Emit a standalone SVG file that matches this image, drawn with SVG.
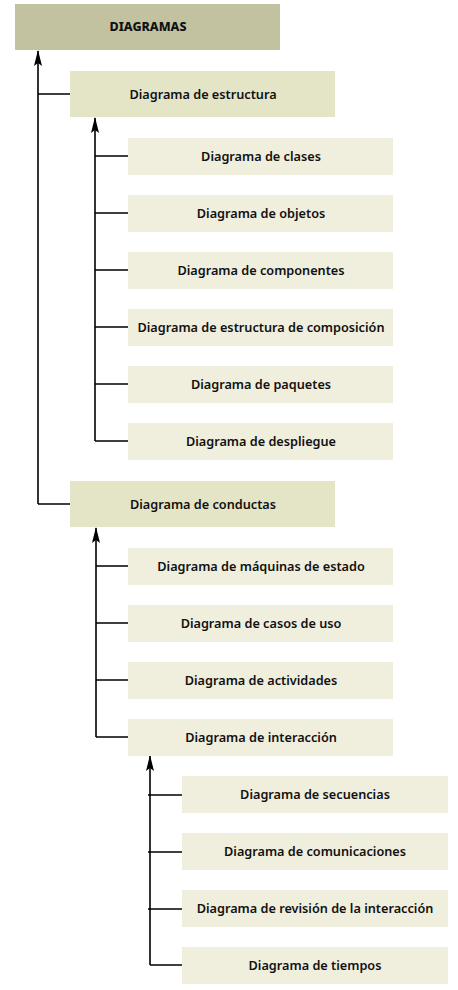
<svg xmlns="http://www.w3.org/2000/svg" width="458" height="990" viewBox="0 0 458 990">
<style>
.t{font-family:"Noto Sans","Liberation Sans",sans-serif;font-weight:600;font-size:12.7px;fill:#111;text-anchor:middle}
.top{fill:#c2c2a0}
.mid{fill:#e4e4c6}
.leaf{fill:#f0eedd}
.c{fill:none;stroke:#000;stroke-width:1.6}
</style>
<defs>
<marker id="ah" markerWidth="16" markerHeight="8" refX="15" refY="4" orient="auto" markerUnits="userSpaceOnUse" viewBox="0 0 16 8">
<path d="M16,4 L0,0 L3,4 L0,8 Z" fill="#000"/>
</marker>
</defs>
<rect width="458" height="990" fill="#fff"/>
<g id="connectors">
<path class="c" d="M38,504 V51" marker-end="url(#ah)"/>
<path class="c" d="M38,94 H70 M38,504 H70"/>
<path class="c" d="M95,441 V118" marker-end="url(#ah)"/>
<path class="c" d="M95,156 H128 M95,213 H128 M95,270 H128 M95,327 H128 M95,384 H128 M95,441 H128"/>
<path class="c" d="M96,737 V528" marker-end="url(#ah)"/>
<path class="c" d="M96,566 H128 M96,623 H128 M96,680 H128 M96,737 H128"/>
<path class="c" d="M150,965 V756" marker-end="url(#ah)"/>
<path class="c" d="M148,795 H182 M148,852 H182 M148,909 H182 M150,965 H182"/>
</g>
<g id="diagramas"><rect class="top" x="15" y="4" width="265" height="46"/><text class="t" x="148" y="31" style="font-weight:800;font-size:12.5px">DIAGRAMAS</text></g>
<g id="estructura"><rect class="mid" x="70" y="71" width="265" height="46"/><text class="t" x="203" y="99">Diagrama de estructura</text></g>
<g id="clases"><rect class="leaf" x="128" y="138" width="265" height="37"/><text class="t" x="261" y="160.5">Diagrama de clases</text></g>
<g id="objetos"><rect class="leaf" x="128" y="195" width="265" height="37"/><text class="t" x="261" y="217.5">Diagrama de objetos</text></g>
<g id="componentes"><rect class="leaf" x="128" y="252" width="265" height="37"/><text class="t" x="261" y="274.5">Diagrama de componentes</text></g>
<g id="composicion"><rect class="leaf" x="128" y="309" width="265" height="37"/><text class="t" x="261" y="331.5">Diagrama de estructura de composición</text></g>
<g id="paquetes"><rect class="leaf" x="128" y="366" width="265" height="37"/><text class="t" x="261" y="388.5">Diagrama de paquetes</text></g>
<g id="despliegue"><rect class="leaf" x="128" y="423" width="265" height="37"/><text class="t" x="261" y="445.5">Diagrama de despliegue</text></g>
<g id="conductas"><rect class="mid" x="70" y="481" width="265" height="46"/><text class="t" x="203" y="508.5">Diagrama de conductas</text></g>
<g id="maquinas"><rect class="leaf" x="128" y="548" width="265" height="37"/><text class="t" x="261" y="570.5">Diagrama de máquinas de estado</text></g>
<g id="casos"><rect class="leaf" x="128" y="605" width="265" height="37"/><text class="t" x="261" y="627.5">Diagrama de casos de uso</text></g>
<g id="actividades"><rect class="leaf" x="128" y="662" width="265" height="37"/><text class="t" x="261" y="684.5">Diagrama de actividades</text></g>
<g id="interaccion"><rect class="leaf" x="128" y="719" width="265" height="37"/><text class="t" x="261" y="741.5">Diagrama de interacción</text></g>
<g id="secuencias"><rect class="leaf" x="182" y="776" width="266" height="37"/><text class="t" x="315" y="798.5">Diagrama de secuencias</text></g>
<g id="comunicaciones"><rect class="leaf" x="182" y="833" width="266" height="37"/><text class="t" x="315" y="855.5">Diagrama de comunicaciones</text></g>
<g id="revision"><rect class="leaf" x="182" y="890" width="266" height="37"/><text class="t" x="315" y="912.5">Diagrama de revisión de la interacción</text></g>
<g id="tiempos"><rect class="leaf" x="182" y="947" width="266" height="37"/><text class="t" x="315" y="969.5">Diagrama de tiempos</text></g>
</svg>
